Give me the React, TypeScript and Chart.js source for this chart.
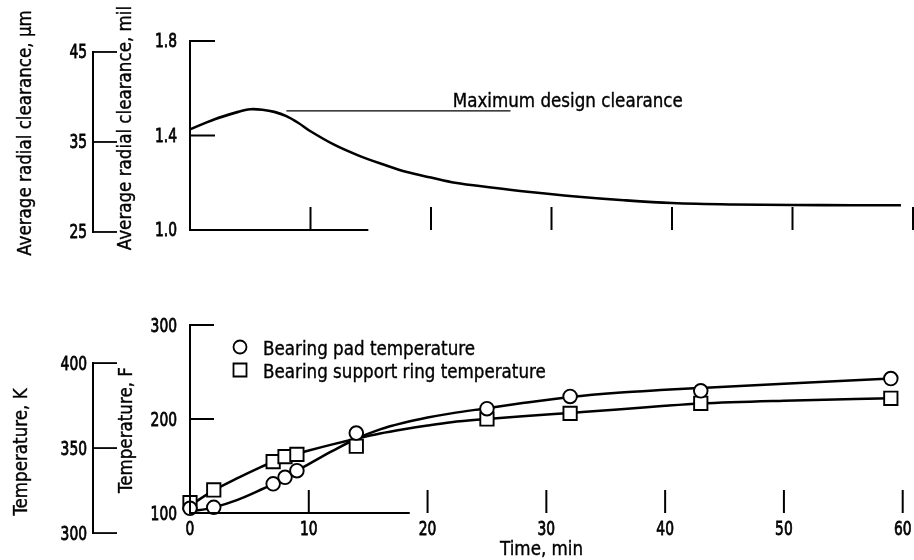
import React, { useEffect, useRef } from "react";
import { Chart, registerables } from "chart.js";

Chart.register(...registerables);

// ---------- data ----------
// Top panel: average radial clearance, mil, vs time, min
const clearanceTime = [0, 2, 4, 5, 6, 7, 8, 9, 10, 12, 14, 16, 18, 20, 22, 25, 28, 32, 36, 40, 45, 50, 55, 59];
const clearanceMil = [1.426, 1.468, 1.5, 1.511, 1.509, 1.5, 1.482, 1.453, 1.418, 1.36, 1.315, 1.278, 1.245, 1.222, 1.2, 1.18, 1.162, 1.142, 1.126, 1.114, 1.108, 1.106, 1.105, 1.105];
const designTime = [8, 26.6];
const designMil = [1.504, 1.504];
const designLabel = "Maximum design clearance";

// Bottom panel: temperatures, F, vs time, min
const sampleTime = [0, 2, 7, 8, 9, 14, 25, 32, 43, 59];
const padTempF = [105, 106, 131, 138, 145, 185, 211, 224, 230, 243];
const ringTempF = [111, 124.5, 154.6, 160, 162.4, 171, 200, 206, 216.7, 222];

// faired curves drawn through the data
const fairTime = [0, 2, 4, 6, 7, 8, 9, 10, 12, 14, 16, 18, 20, 22, 25, 28, 32, 36, 40, 43, 50, 59];
const padFairF = [101.5, 106, 114, 125, 131, 138, 145, 152, 166, 179, 189, 196, 201.5, 206, 211.5, 217, 223.5, 228, 231, 233, 237.5, 243];
const ringFairF = [108, 124, 137, 149, 154.5, 159, 163, 166.5, 173, 179, 184.5, 189, 193, 196.5, 200, 203, 206.5, 210, 214, 216.5, 219.5, 222];

const padLabel = "Bearing pad temperature";
const ringLabel = "Bearing support ring temperature";

// axes / tick labels
const timeTicks = [0, 10, 20, 30, 40, 50, 60];
const milTicks = [1.0, 1.4, 1.8];
const milTickLabels = ["1.0", "1.4", "1.8"];
const umTicks = [25, 35, 45];
const fTicks = [100, 200, 300];
const kTicks = [300, 350, 400];

const milTitle = "Average radial clearance, mil";
const umTitle = "Average radial clearance, \u03bcm";
const fTitle = "Temperature, F";
const kTitle = "Temperature, K";
const timeTitle = "Time, min";

// ---------- drawing helpers ----------
const W = 914;
const H = 560;
const TEXT_FONT = '18.6px "DejaVu Sans Condensed", "DejaVu Sans", sans-serif';
const TICK_FONT = '19.5px "DejaVu Sans", sans-serif';
const TICK_SX = 0.71;

function seg(ctx: CanvasRenderingContext2D, x1: number, y1: number, x2: number, y2: number, w: number) {
  ctx.lineWidth = w;
  ctx.beginPath();
  ctx.moveTo(x1, y1);
  ctx.lineTo(x2, y2);
  ctx.stroke();
}

function txt(
  ctx: CanvasRenderingContext2D,
  text: string,
  x: number,
  y: number,
  align: CanvasTextAlign,
  baseline: CanvasTextBaseline,
  font: string,
  sx = 1,
  rot = 0,
  weight = 0.35
) {
  ctx.save();
  ctx.translate(x, y);
  if (rot) ctx.rotate(rot);
  ctx.scale(sx, 1);
  ctx.font = font;
  ctx.textAlign = align;
  ctx.textBaseline = baseline;
  ctx.fillStyle = "#000";
  ctx.strokeStyle = "#000";
  ctx.lineWidth = weight;
  ctx.fillText(text, 0, 0);
  ctx.strokeText(text, 0, 0);
  ctx.restore();
}

function tick(ctx: CanvasRenderingContext2D, text: string, x: number, y: number, align: CanvasTextAlign) {
  txt(ctx, text, x, y, align, "middle", TICK_FONT, TICK_SX, 0, 0.8);
}

function vText(ctx: CanvasRenderingContext2D, text: string, cx: number, cy: number) {
  txt(ctx, text, cx, cy, "center", "middle", TEXT_FONT, 1, -Math.PI / 2);
}

const topAxes = {
  id: "topAxes",
  afterDatasetsDraw(chart: any) {
    const { ctx, scales } = chart;
    const x = scales.x, y = scales.y, yum = scales.yum;
    ctx.save();
    ctx.strokeStyle = "#000";
    ctx.fillStyle = "#000";
    const x0 = x.getPixelForValue(0);
    const yBase = y.getPixelForValue(1.0);
    // mil axis
    seg(ctx, x0, y.getPixelForValue(1.8) - 1, x0, yBase + 1, 2);
    milTicks.forEach((v, i) => {
      const py = y.getPixelForValue(v);
      if (v > 1.0) seg(ctx, x0, py, x0 + 25, py, 2);
      tick(ctx, milTickLabels[i], x0 - 13, py + 1, "right");
    });
    // partial time baseline and upward time ticks
    seg(ctx, x0, yBase, x.getPixelForValue(14.8), yBase, 1.8);
    timeTicks.forEach((t) => {
      if (t === 0) return;
      const px = x.getPixelForValue(t);
      seg(ctx, px, yBase - 23, px, yBase, 2);
    });
    // micrometre axis
    const xu = 93;
    seg(ctx, xu, yum.getPixelForValue(45) - 1, xu, yum.getPixelForValue(25) + 1, 2);
    umTicks.forEach((v) => {
      const py = yum.getPixelForValue(v);
      seg(ctx, xu, py, xu + 24, py, 1.8);
      tick(ctx, String(v), xu - 6, py + 1, "right");
    });
    // titles
    vText(ctx, umTitle, 26, 133);
    vText(ctx, milTitle, 126, 128);
    // design clearance label
    txt(ctx, designLabel, x.getPixelForValue(21.8), y.getPixelForValue(1.52), "left", "alphabetic", TEXT_FONT);
    ctx.restore();
  },
};

const bottomAxes = {
  id: "bottomAxes",
  afterDatasetsDraw(chart: any) {
    const { ctx, scales } = chart;
    const x = scales.x, y = scales.y, yk = scales.yk;
    ctx.save();
    ctx.strokeStyle = "#000";
    ctx.fillStyle = "#000";
    const x0 = x.getPixelForValue(0);
    const yBase = y.getPixelForValue(100);
    // F axis
    seg(ctx, x0, y.getPixelForValue(300) - 1, x0, yBase + 1, 2);
    fTicks.forEach((v) => {
      const py = y.getPixelForValue(v);
      if (v > 100) seg(ctx, x0, py, x0 + 24, py, 2);
      tick(ctx, String(v), x0 - 13, py + 2, "right");
    });
    // partial time baseline, ticks, labels
    seg(ctx, x0, yBase, x.getPixelForValue(18.5), yBase, 1.8);
    timeTicks.forEach((t) => {
      const px = x.getPixelForValue(t);
      if (t > 0) seg(ctx, px, yBase - 23, px, yBase, 2);
      tick(ctx, String(t), px, yBase + 17, "center");
    });
    txt(ctx, timeTitle, x.getPixelForValue(29.6), yBase + 37, "center", "middle", TEXT_FONT);
    // kelvin axis
    const xk = 93;
    seg(ctx, xk, yk.getPixelForValue(400) - 1, xk, yk.getPixelForValue(300) + 1, 2);
    kTicks.forEach((v) => {
      const py = yk.getPixelForValue(v);
      seg(ctx, xk, py, xk + 24, py, 1.8);
      tick(ctx, String(v), xk - 6, py + 2, "right");
    });
    vText(ctx, kTitle, 22, 452);
    vText(ctx, fTitle, 127, 430);
    // legend
    const lx = x0 + 50;
    const ly1 = 347;
    const ly2 = 370;
    ctx.lineWidth = 1.8;
    ctx.fillStyle = "#fff";
    ctx.beginPath();
    ctx.arc(lx, ly1, 6.5, 0, Math.PI * 2);
    ctx.fill();
    ctx.stroke();
    ctx.beginPath();
    ctx.rect(lx - 6.5, ly2 - 6.5, 13, 13);
    ctx.fill();
    ctx.stroke();
    txt(ctx, chart.data.datasets[0].label, lx + 23, ly1 + 8, "left", "alphabetic", TEXT_FONT);
    txt(ctx, chart.data.datasets[1].label, lx + 23, ly2 + 8, "left", "alphabetic", TEXT_FONT);
    ctx.restore();
  },
};

function pts(xs: number[], ys: number[]) {
  return xs.map((t, i) => ({ x: t, y: ys[i] }));
}

export default function App() {
  const topRef = useRef<HTMLCanvasElement>(null);
  const botRef = useRef<HTMLCanvasElement>(null);

  useEffect(() => {
    const common = {
      responsive: false,
      animation: false as const,
      devicePixelRatio: 1,
      events: [] as any[],
      plugins: { legend: { display: false }, tooltip: { enabled: false } },
    };

    const top = new Chart(topRef.current as HTMLCanvasElement, {
      type: "line",
      data: {
        datasets: [
          {
            label: "Average radial clearance",
            data: pts(clearanceTime, clearanceMil),
            borderColor: "#000",
            borderWidth: 2.6,
            pointRadius: 0,
            tension: 0.35,
            clip: false,
          },
          {
            label: designLabel,
            data: pts(designTime, designMil),
            borderColor: "#000",
            borderWidth: 1.3,
            pointRadius: 0,
            tension: 0,
            clip: false,
          },
        ],
      },
      options: {
        ...common,
        layout: { padding: { left: 190, right: 1, top: 41, bottom: H - 230 } },
        scales: {
          x: { type: "linear", min: 0, max: 60, display: false },
          y: { type: "linear", min: 1.0, max: 1.8, display: false },
          yum: { type: "linear", position: "left", min: 25.22, max: 46.22, display: false },
        },
      } as any,
      plugins: [topAxes],
    });

    const bot = new Chart(botRef.current as HTMLCanvasElement, {
      type: "line",
      data: {
        datasets: [
          {
            label: padLabel,
            data: pts(sampleTime, padTempF),
            showLine: false,
            pointStyle: "circle",
            pointRadius: 6.8,
            pointBackgroundColor: "#fff",
            pointBorderColor: "#000",
            pointBorderWidth: 1.9,
            clip: false,
          },
          {
            label: ringLabel,
            data: pts(sampleTime, ringTempF),
            showLine: false,
            pointStyle: "rect",
            pointRadius: 9.4,
            pointBackgroundColor: "#fff",
            pointBorderColor: "#000",
            pointBorderWidth: 1.9,
            clip: false,
          },
          {
            label: padLabel + " (faired)",
            data: pts(fairTime, padFairF),
            borderColor: "#000",
            borderWidth: 2.5,
            pointRadius: 0,
            cubicInterpolationMode: "monotone",
            clip: false,
          },
          {
            label: ringLabel + " (faired)",
            data: pts(fairTime, ringFairF),
            borderColor: "#000",
            borderWidth: 2.5,
            pointRadius: 0,
            cubicInterpolationMode: "monotone",
            clip: false,
          },
        ],
      },
      options: {
        ...common,
        layout: { padding: { left: 190, right: 1, top: 325, bottom: H - 513 } },
        scales: {
          x: { type: "linear", min: 0, max: 60, display: false },
          y: { type: "linear", min: 100, max: 300, display: false },
          yk: { type: "linear", position: "left", min: 311.8, max: 422.4, display: false },
        },
      } as any,
      plugins: [bottomAxes],
    });

    return () => {
      top.destroy();
      bot.destroy();
    };
  }, []);

  const canvasStyle: React.CSSProperties = { position: "absolute", left: 0, top: 0, width: W, height: H };
  return (
    <div style={{ position: "fixed", left: 0, top: 0, width: W, height: H, background: "#fff", overflow: "hidden" }}>
      <canvas ref={topRef} width={W} height={H} style={canvasStyle} />
      <canvas ref={botRef} width={W} height={H} style={canvasStyle} />
    </div>
  );
}
